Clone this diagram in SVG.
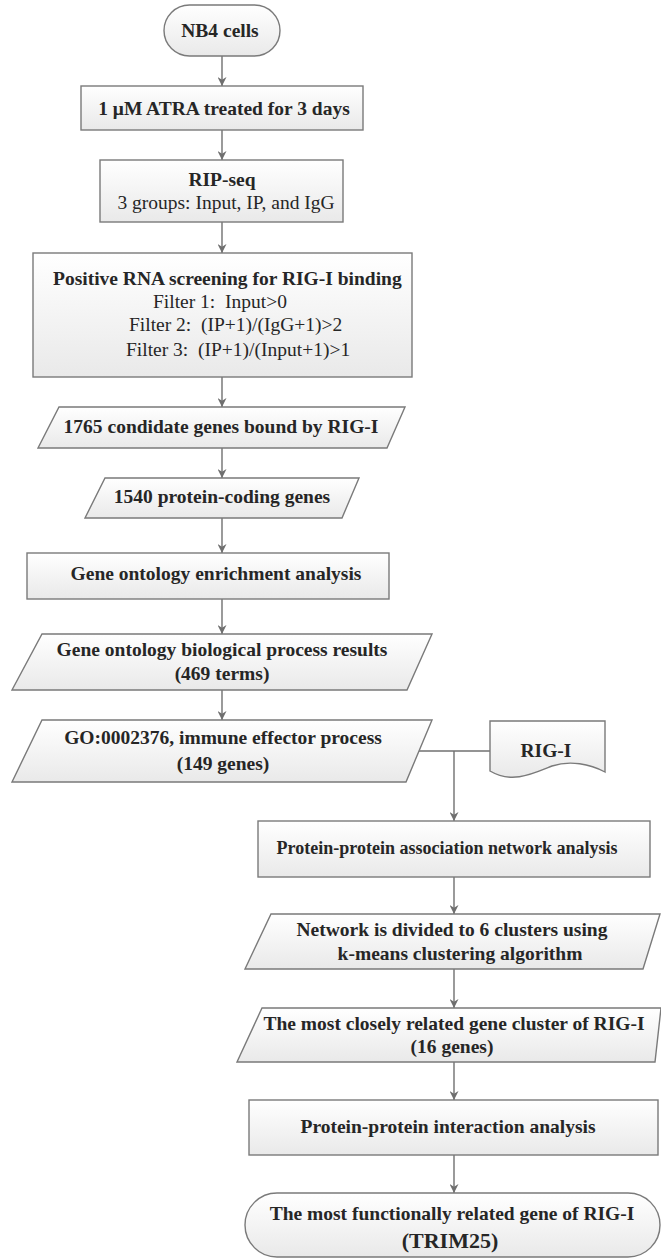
<svg xmlns="http://www.w3.org/2000/svg" width="661" height="1258" viewBox="0 0 661 1258">
<defs>
<linearGradient id="g" x1="0" y1="0" x2="0" y2="1">
<stop offset="0" stop-color="#ffffff"/>
<stop offset="1" stop-color="#e9e9e9"/>
</linearGradient>
<marker id="ah" viewBox="0 0 10 10" refX="10" refY="5" markerWidth="9" markerHeight="9" markerUnits="userSpaceOnUse" orient="auto">
<path d="M0,0 L10,5 L0,10 L3,5 Z" fill="#6f6f6f"/>
</marker>
</defs>
<style>
.s{fill:url(#g);stroke:#7a7a7a;stroke-width:1.4}
.c{fill:none;stroke:#707070;stroke-width:1.4}
text{font-family:"Liberation Serif","Times New Roman",serif;fill:#262626;font-size:19.5px}
.b{font-weight:bold}
.m{text-anchor:middle}
</style>
<rect width="661" height="1258" fill="#ffffff"/>
<g id="connectors">
<path class="c" d="M222,56 V86" marker-end="url(#ah)"/>
<path class="c" d="M222,130 V160" marker-end="url(#ah)"/>
<path class="c" d="M222,222 V253" marker-end="url(#ah)"/>
<path class="c" d="M222,377 V407" marker-end="url(#ah)"/>
<path class="c" d="M222,448 V478" marker-end="url(#ah)"/>
<path class="c" d="M222,518 V553" marker-end="url(#ah)"/>
<path class="c" d="M222,599 V634" marker-end="url(#ah)"/>
<path class="c" d="M222,690 V720" marker-end="url(#ah)"/>
<path class="c" d="M419,751 H490"/>
<path class="c" d="M454,751 V821" marker-end="url(#ah)"/>
<path class="c" d="M454,877 V914" marker-end="url(#ah)"/>
<path class="c" d="M454,969 V1008" marker-end="url(#ah)"/>
<path class="c" d="M454,1062 V1100" marker-end="url(#ah)"/>
<path class="c" d="M454,1155 V1193" marker-end="url(#ah)"/>
</g>
<g id="n1">
<rect class="s" x="164" y="5" width="116" height="51" rx="25.5"/>
<text class="b m" x="220" y="37">NB4 cells</text>
</g>
<g id="n2">
<rect class="s" x="81" y="86" width="282" height="44"/>
<text class="b m" x="224" y="115">1 μM ATRA treated for 3 days</text>
</g>
<g id="n3">
<rect class="s" x="100" y="160" width="243" height="62"/>
<text class="b m" x="222" y="186">RIP-seq</text>
<text class="m" x="226" y="209">3 groups: Input, IP, and IgG</text>
</g>
<g id="n4">
<rect class="s" x="33" y="253" width="379" height="124"/>
<text class="b" x="53" y="285">Positive RNA screening for RIG-I binding</text>
<text x="153" y="308" xml:space="preserve">Filter 1:  Input&gt;0</text>
<text x="129" y="331" xml:space="preserve">Filter 2:  (IP+1)/(IgG+1)&gt;2</text>
<text x="126" y="356" xml:space="preserve">Filter 3:  (IP+1)/(Input+1)&gt;1</text>
</g>
<g id="n5">
<path class="s" d="M59,407 H405 L387,448 H38 Z"/>
<text class="b m" x="221" y="433">1765 condidate genes bound by RIG-I</text>
</g>
<g id="n6">
<path class="s" d="M105,478 H359 L342,518 H85 Z"/>
<text class="b m" x="222" y="503">1540 protein-coding genes</text>
</g>
<g id="n7">
<rect class="s" x="27" y="553" width="362" height="46"/>
<text class="b m" x="216" y="580">Gene ontology enrichment analysis</text>
</g>
<g id="n8">
<path class="s" d="M42,634 H432 L407,690 H12 Z"/>
<text class="b m" x="222" y="656">Gene ontology biological process results</text>
<text class="b m" x="222" y="680">(469 terms)</text>
</g>
<g id="n9">
<path class="s" d="M42,720 H432 L406,782 H12 Z"/>
<text class="b m" x="223" y="744">GO:0002376, immune effector process</text>
<text class="b m" x="223" y="770">(149 genes)</text>
</g>
<g id="n10">
<path class="s" d="M490,721 H605 V772 C590,764 570,760 552,766 C532,774 512,784 490,771 Z"/>
<text class="b m" x="546" y="757">RIG-I</text>
</g>
<g id="n11">
<rect class="s" x="258" y="821" width="392" height="56"/>
<text class="b m" x="447" y="854" style="font-size:18px">Protein-protein association network analysis</text>
</g>
<g id="n12">
<path class="s" d="M271,914 H660 L643,969 H245 Z"/>
<text class="b m" x="452" y="936">Network is divided to 6 clusters using</text>
<text class="b m" x="460" y="960">k-means clustering algorithm</text>
</g>
<g id="n13">
<path class="s" d="M262,1008 H661 L655,1062 H237 Z"/>
<text class="b m" x="454" y="1030">The most closely related gene cluster of RIG-I</text>
<text class="b m" x="452" y="1053">(16 genes)</text>
</g>
<g id="n14">
<rect class="s" x="249" y="1100" width="409" height="55"/>
<text class="b m" x="448" y="1133">Protein-protein interaction analysis</text>
</g>
<g id="n15">
<rect class="s" x="245" y="1193" width="415" height="64" rx="32"/>
<text class="b m" x="452" y="1220">The most functionally related gene of RIG-I</text>
<text class="b m" x="450" y="1248" style="font-size:22px">(TRIM25)</text>
</g>
</svg>
